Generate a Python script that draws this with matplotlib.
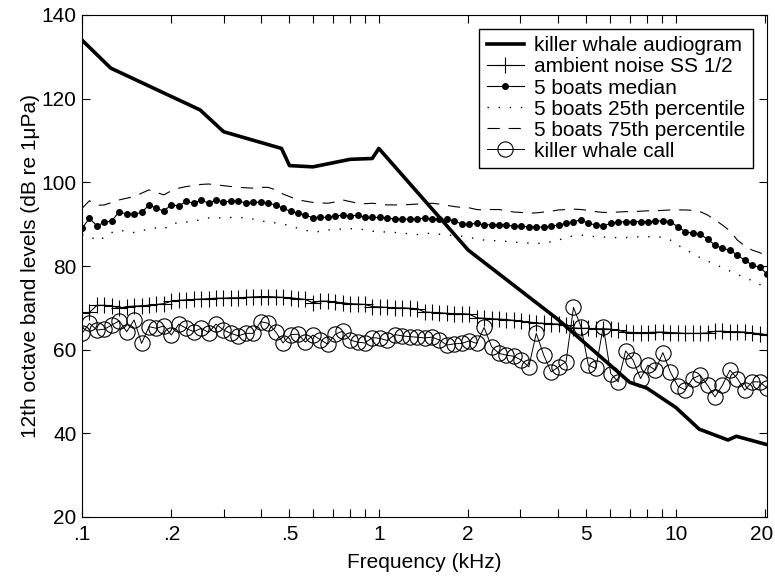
import numpy as np
import matplotlib
matplotlib.use('Agg')
import matplotlib.pyplot as plt
from matplotlib.ticker import FixedLocator, FixedFormatter, NullFormatter
from matplotlib.transforms import ScaledTranslation

plt.rcParams['font.family'] = ['Liberation Sans', 'DejaVu Sans']
plt.rcParams['font.size'] = 15

# 12th octave bands from 0.1 kHz
band = np.arange(93)
freq_khz = 0.1 * 2.0 ** (band / 12.0)

audio_freq = [0.1, 0.125, 0.25, 0.3, 0.47, 0.5, 0.6, 0.8, 0.95, 1.0,
              2.0, 4.0, 7.0, 8.0, 10.0, 12.0, 15.0, 16.0, 20.3]
audio_db = [134.0, 127.3, 117.3, 112.1, 108.1, 104.0, 103.7, 105.5, 105.7, 108.1,
            83.8, 67.3, 52.2, 50.8, 46.2, 41.0, 38.4, 39.3, 37.3]

ambient = [68.8, 68.9, 70.6, 70.6, 70.5, 69.9, 70.3, 70.4, 70.5, 70.6,
           70.8, 71.0, 71.6, 71.8, 71.9, 72.0, 72.1, 72.2, 72.3, 72.3,
           72.4, 72.4, 72.5, 72.6, 72.7, 72.7, 72.6, 72.5, 72.4, 72.2,
           72.0, 71.2, 71.6, 71.6, 71.4, 71.2, 71.0, 70.9, 70.8, 70.3,
           70.2, 70.1, 70.0, 70.0, 69.9, 69.8, 69.0, 68.9, 68.8, 68.7,
           68.6, 68.6, 68.5, 67.6, 67.5, 67.4, 67.3, 67.2, 67.0, 66.8,
           66.6, 66.4, 66.3, 66.2, 66.1, 66.0, 65.2, 65.1, 65.1, 65.0,
           65.0, 64.9, 64.6, 64.2, 64.1, 64.1, 64.1, 64.2, 64.2, 64.1,
           64.0, 63.9, 63.9, 63.9, 64.0, 64.4, 64.4, 64.3, 64.3, 64.2,
           64.0, 63.8, 63.6]

median = [89.0, 91.4, 89.6, 90.4, 90.8, 93.0, 92.4, 92.4, 92.8, 94.6,
          93.8, 93.1, 94.7, 94.3, 95.5, 95.0, 95.8, 95.0, 95.8, 95.3,
          95.5, 95.5, 95.1, 95.2, 95.3, 95.0, 94.6, 93.8, 93.1, 92.6,
          92.2, 91.5, 91.7, 91.6, 92.0, 92.1, 92.0, 92.1, 91.6, 91.6,
          91.6, 91.5, 91.2, 91.2, 91.2, 91.2, 91.5, 91.2, 91.2, 91.2,
          90.8, 90.0, 90.0, 90.2, 89.8, 89.9, 89.9, 89.8, 89.5, 89.5,
          89.3, 89.3, 89.3, 89.5, 89.8, 90.2, 90.6, 91.0, 90.2, 89.8,
          89.6, 90.2, 90.5, 90.6, 90.6, 90.6, 90.6, 90.7, 90.8, 90.6,
          89.4, 88.2, 87.8, 87.6, 86.4, 85.0, 84.2, 83.8, 82.6, 81.4,
          80.2, 79.7, 78.1]

p25 = [87.5, 87.2, 86.0, 86.8, 88.0, 88.6, 88.2, 88.0, 88.4, 88.9,
       89.1, 88.8, 90.0, 90.4, 90.5, 90.6, 91.2, 91.5, 91.5, 91.5,
       91.6, 91.6, 91.5, 91.2, 90.8, 90.5, 90.3, 90.0, 89.6, 89.0,
       88.5, 88.3, 88.2, 88.6, 88.8, 88.8, 88.9, 89.0, 88.6, 88.3,
       88.2, 88.1, 88.0, 88.0, 87.6, 87.5, 87.8, 87.8, 87.6, 87.4,
       87.3, 87.1, 86.8, 86.5, 86.2, 86.1, 86.0, 85.9, 85.7, 85.6,
       85.5, 85.4, 85.4, 85.8, 86.2, 86.8, 87.2, 87.4, 87.2, 87.0,
       86.9, 86.8, 86.8, 86.8, 86.9, 87.0, 87.0, 87.0, 86.9, 86.2,
       85.0, 84.0, 83.0, 82.0, 81.2, 80.4, 79.6, 78.8, 78.0, 77.2,
       76.5, 75.6, 74.8]

p75 = [93.8, 95.6, 94.5, 94.6, 95.2, 95.8, 96.2, 96.6, 97.4, 98.2,
       97.6, 97.0, 98.0, 98.6, 99.0, 99.2, 99.5, 99.6, 99.4, 99.2,
       99.0, 98.8, 98.7, 98.6, 98.8, 98.8, 98.2, 97.2, 96.5, 95.8,
       95.5, 95.2, 95.1, 95.0, 95.3, 95.8, 95.4, 95.0, 94.9, 95.0,
       94.8, 94.6, 94.6, 94.6, 94.7, 94.8, 94.9, 95.0, 94.8, 94.5,
       94.2, 94.0, 93.9, 93.5, 93.4, 93.5, 93.5, 93.2, 92.9, 92.8,
       92.6, 92.7, 92.9, 93.1, 93.4, 93.5, 93.6, 93.5, 93.3, 93.0,
       92.8, 92.8, 92.9, 93.0, 93.0, 93.1, 93.2, 93.2, 93.3, 93.4,
       93.4, 93.4, 93.3, 93.0, 92.2, 91.0, 89.8, 88.4, 86.2, 84.8,
       83.8, 83.2, 82.4]

call = [63.9, 66.3, 64.7, 64.9, 65.9, 66.9, 64.3, 67.1, 61.5, 65.5,
        65.1, 65.7, 63.5, 66.1, 65.1, 64.3, 65.1, 64.1, 66.1, 64.7,
        63.9, 63.3, 63.9, 63.9, 66.7, 66.3, 64.3, 61.6, 63.6, 63.7,
        61.8, 63.5, 62.4, 61.3, 63.7, 64.4, 62.3, 61.8, 61.6, 62.9,
        62.7, 62.2, 63.6, 63.3, 63.1, 63.0, 62.8, 63.0, 62.3, 61.1,
        61.4, 61.5, 62.1, 61.5, 65.3, 60.7, 59.1, 58.7, 58.4, 57.5,
        55.9, 63.9, 58.7, 54.7, 55.9, 57.1, 70.1, 65.5, 56.3, 55.5,
        65.5, 54.3, 52.3, 59.7, 57.5, 53.1, 56.3, 55.1, 59.3, 54.7,
        51.3, 50.4, 53.1, 53.9, 51.5, 48.7, 51.5, 55.1, 53.1, 50.3,
        52.3, 52.3, 50.8]

major_ticks = [0.1, 0.2, 0.5, 1, 2, 5, 10, 20]
major_labels = ['.1', '.2', '.5', '1', '2', '5', '10', '20']
minor_ticks = [0.3, 0.4, 0.6, 0.7, 0.8, 0.9, 3, 4, 6, 7, 8, 9]

fig = plt.figure(figsize=(7.75, 5.79), dpi=100)
ax = fig.add_axes([82 / 775, 1 - 517 / 579, 685 / 775, 502 / 579])

ax.plot(audio_freq, audio_db, color='k', lw=2.6, zorder=5,
        label='killer whale audiogram')
ax.plot(freq_khz, ambient, color='k', lw=0.8, marker='+', ms=11.5, mew=0.8,
        label='ambient noise SS 1/2')
ax.plot(freq_khz, median, color='k', lw=0.8, marker='o', ms=4,
        label='5 boats median')
ax.plot(freq_khz, p25, color='k', lw=1.0, linestyle=(0, (1, 7)),
        label='5 boats 25th percentile')
ax.plot(freq_khz, p75, color='k', lw=0.8, linestyle=(0, (11, 8)),
        label='5 boats 75th percentile')
ax.plot(freq_khz, call, color='k', lw=0.7, marker='o', ms=11, mfc='none', mew=0.8,
        label='killer whale call')

ax.set_xscale('log')
ax.set_xlim(0.1, 20.3)
ax.set_ylim(20, 140)
ax.xaxis.set_major_locator(FixedLocator(major_ticks))
ax.xaxis.set_major_formatter(FixedFormatter(major_labels))
ax.xaxis.set_minor_locator(FixedLocator(minor_ticks))
ax.xaxis.set_minor_formatter(NullFormatter())
ax.set_yticks(np.arange(20, 141, 20))
ax.tick_params(which='both', direction='in', top=True, right=True,
               length=6, width=0.8, labelsize=15)
ax.tick_params(axis='x', pad=6)
ax.tick_params(axis='y', pad=4)
for sp in ax.spines.values():
    sp.set_linewidth(0.8)

ax.set_xlabel('Frequency (kHz)', fontsize=15, labelpad=6)
ax.set_ylabel('12th octave band levels (dB re 1\u03bcPa)', fontsize=15, labelpad=1)

leg = ax.legend(loc='upper right', bbox_to_anchor=(0.9796, 0.972), borderaxespad=0,
                fancybox=False, edgecolor='k', framealpha=1, numpoints=1,
                handlelength=1.8, handletextpad=0.5, labelspacing=0.1,
                borderpad=0.35, fontsize=15)
leg.get_frame().set_linewidth(1.0)

# nudge the last x label so it stays inside the figure
fig.canvas.draw()
last = ax.xaxis.get_major_ticks()[-1].label1
last.set_transform(last.get_transform() + ScaledTranslation(-3 / 100, 0, fig.dpi_scale_trans))

fig.savefig('out.png', dpi=100)
